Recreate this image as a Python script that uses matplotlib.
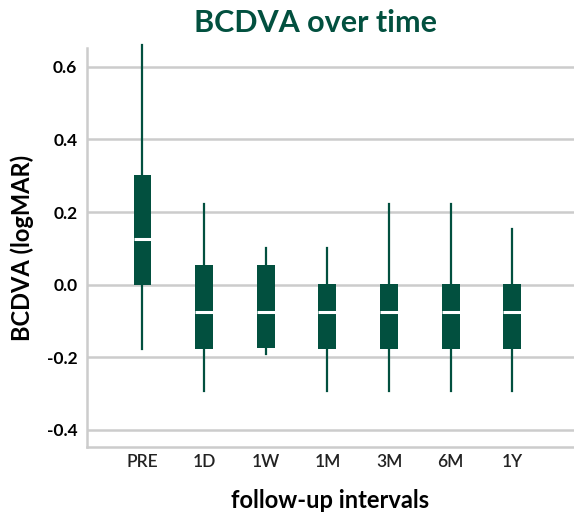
import matplotlib
matplotlib.use("Agg")
import matplotlib.pyplot as plt

plt.rcParams['font.family'] = ['Lato', 'DejaVu Sans']

categories = ["PRE", "1D", "1W", "1M", "3M", "6M", "1Y"]
whisker_low = [-0.176, -0.293, -0.19, -0.293, -0.293, -0.293, -0.293]
q1 = [0.0, -0.178, -0.173, -0.176, -0.176, -0.176, -0.176]
median = [0.127, -0.075, -0.075, -0.075, -0.075, -0.075, -0.075]
q3 = [0.303, 0.055, 0.055, 0.003, 0.003, 0.003, 0.003]
whisker_high = [0.66, 0.222, 0.10, 0.10, 0.222, 0.222, 0.153]
y_ticks = [-0.4, -0.2, 0.0, 0.2, 0.4, 0.6]

green = "#02503F"
grid_c = "#cccccc"

fig = plt.figure(figsize=(5.74, 5.14), dpi=100)
ax = fig.add_axes([0.1516, 0.1304, 0.8484, 0.7762])

stats = []
for i, c in enumerate(categories):
    stats.append(dict(label=c, whislo=whisker_low[i], q1=q1[i], med=median[i],
                      q3=q3[i], whishi=whisker_high[i], fliers=[]))

res = ax.bxp(stats, positions=range(len(categories)), widths=0.29, patch_artist=True,
             showcaps=False, showfliers=False,
             boxprops=dict(facecolor=green, edgecolor=green, linewidth=0),
             whiskerprops=dict(color=green, linewidth=1.6),
             medianprops=dict(color="white", linewidth=2.2, solid_capstyle='butt'),
             zorder=3)
for w in res['whiskers']:
    w.set_clip_on(False)

ax.set_xlim(-0.9, 7.0)
ax.set_ylim(-0.447, 0.652)
ax.set_yticks(y_ticks)
ax.set_yticklabels(["-0.4", "-0.2", "0.0", "0.2", "0.4", "0.6"])
ax.yaxis.grid(True, color=grid_c, linewidth=1.8, zorder=0)
ax.set_axisbelow(True)
ax.tick_params(axis='both', length=0)
ax.tick_params(axis='y', labelsize=12.5, pad=7)
ax.tick_params(axis='x', labelsize=12.5, pad=5)
for lab in ax.get_yticklabels():
    lab.set_fontweight('bold')
for lab in ax.get_xticklabels():
    lab.set_fontweight('semibold')
    lab.set_color('#222222')

for s in ['top', 'right']:
    ax.spines[s].set_visible(False)
for s in ['left', 'bottom']:
    ax.spines[s].set_color(grid_c)
    ax.spines[s].set_linewidth(1.8)

ax.set_ylabel("BCDVA (logMAR)", fontsize=17, fontweight='bold', labelpad=9)
ax.set_xlabel("follow-up intervals", fontsize=17, fontweight='bold', labelpad=14)
fig.text(0.55, 0.955, "BCDVA over time", ha='center', va='center',
         fontsize=22, fontweight='bold', color=green)

fig.savefig("out.png", dpi=100)
